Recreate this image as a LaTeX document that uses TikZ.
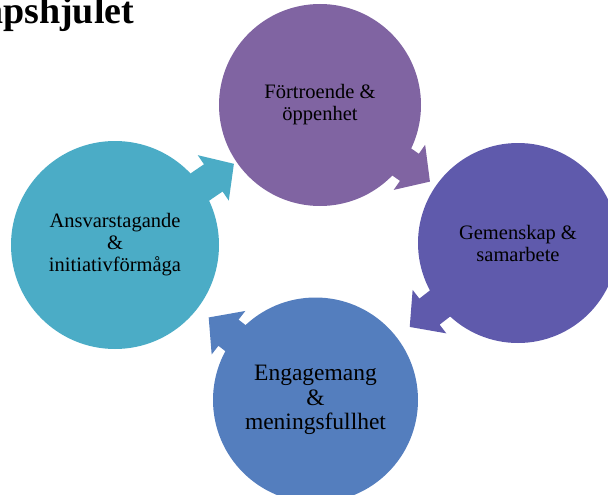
\documentclass[tikz,border=0pt]{standalone}
\usepackage{fontspec}
\setmainfont{Liberation Serif}
\usepackage{tikz}
\usetikzlibrary{calc}
\usetikzlibrary{backgrounds}
\definecolor{cteal}{HTML}{4BACC6}
\definecolor{cpurple}{HTML}{8064A2}
\definecolor{cindigo}{HTML}{5F5AAC}
\definecolor{cblue}{HTML}{547EBE}

\begin{document}
\begin{tikzpicture} [x=1pt, y=-1pt, bubble/.style={circle, inner sep=0pt, align=center, text=black, font=\fontsize{20.5}{22}\selectfont}]
\useasboundingbox (0,0) rectangle (608,495);

\node[anchor=base west, inner sep=0pt, font=\fontsize{38}{38}\bfseries\selectfont] (titel) at (-16,24) {apshjulet};

\node[bubble, fill=cpurple, minimum size=202pt] (fortroende) at (320,105) {Förtroende \&\\öppenhet};
\node[bubble, fill=cindigo, minimum size=200pt] (gemenskap) at (518,243) {Gemenskap \&\\samarbete};
\node[bubble, fill=cblue, minimum size=205pt, font=\fontsize{23.5}{24.5}\selectfont] (engagemang) at (315.5,400) {Engagemang\\\&\\meningsfullhet};
\node[bubble, fill=cteal, minimum size=208pt] (ansvar) at (115,245) {Ansvarstagande\\\&\\initiativförmåga};

% pilar mellan cirklarna
\begin{scope}[on background layer]
\foreach \s/\t/\c/\d [evaluate=\d as \b using \d-25] in {ansvar/fortroende/cteal/144, fortroende/gemenskap/cpurple/134, gemenskap/engagemang/cindigo/137, engagemang/ansvar/cblue/135} \fill[\c] ($(\s.center)!16.5pt!90:(\t.center)$) -- ($(\s.center)!\b pt!(\t.center)!16.5pt!90:(\t.center)$) -- ($(\s.center)!\b pt!(\t.center)!27.5pt!90:(\t.center)$) -- ($(\s.center)!\d pt!(\t.center)$) -- ($(\s.center)!\b pt!(\t.center)!27.5pt!-90:(\t.center)$) -- ($(\s.center)!\b pt!(\t.center)!16.5pt!-90:(\t.center)$) -- ($(\s.center)!16.5pt!-90:(\t.center)$) -- cycle;
\end{scope}
\end{tikzpicture}
\end{document}
